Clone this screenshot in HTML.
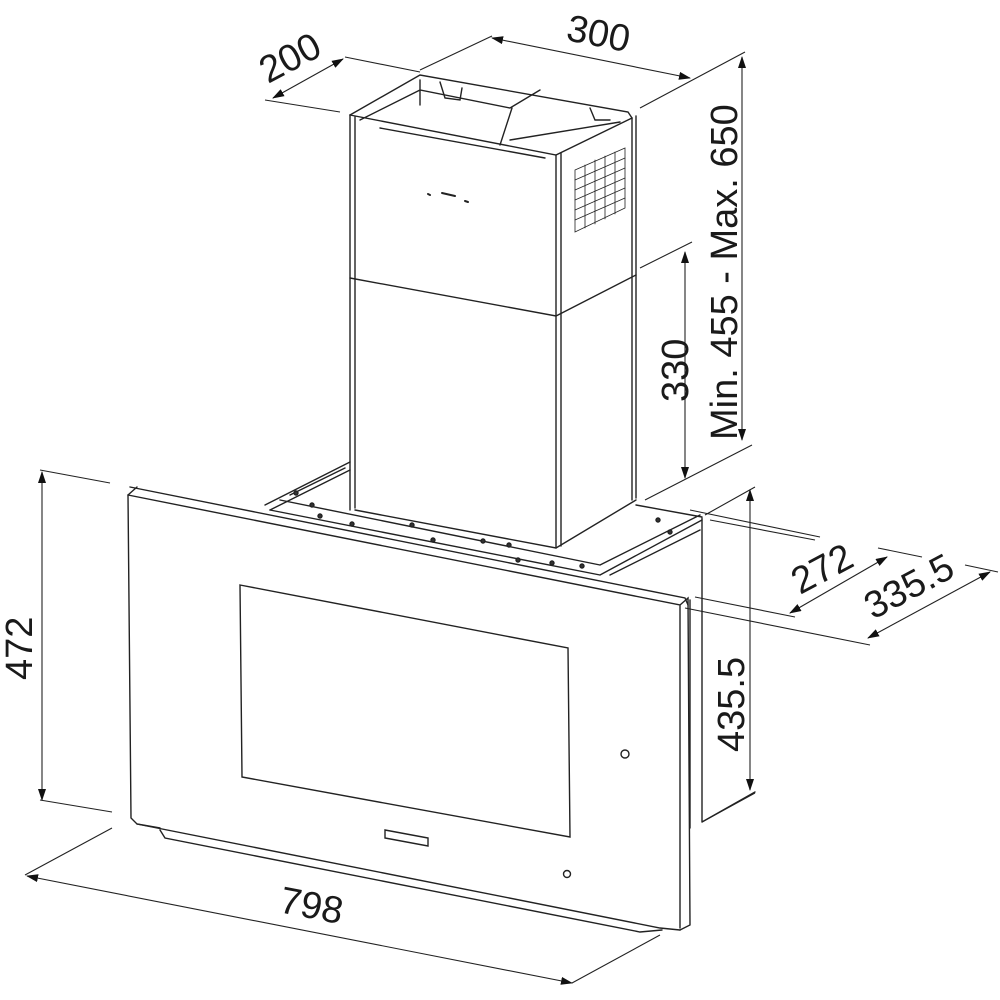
<!DOCTYPE html>
<html><head><meta charset="utf-8"><style>
html,body{margin:0;padding:0;background:#fff;}
svg{display:block}
text{font-family:"Liberation Sans",sans-serif;font-size:38px;fill:#1a1a1a}
</style></head><body>
<svg width="1000" height="1000" viewBox="0 0 1000 1000" xmlns="http://www.w3.org/2000/svg">
<defs>
<marker id="a" markerWidth="12" markerHeight="8" refX="11" refY="4" orient="auto-start-reverse" markerUnits="userSpaceOnUse"><path d="M0,0 L12,4 L0,8 Z" fill="#111"/></marker>
</defs>
<g stroke="#222" stroke-width="1.4" fill="none" stroke-linecap="round">
<path d="M350,115 L350,510 M355,117 L355,508"/>
<path d="M350,115 L556,155 L632,118"/>
<path d="M350,115 L420,75 L628,112 L632,118"/>
<path d="M556,155 L556,548 M561,153 L561,546"/>
<path d="M632,118 L632,500 M636,116 L636,498"/>
<path d="M350,278 L556,316 L636,275"/>
<path d="M355,510 L556,548 L636,500"/>
<path d="M360,120 L420,90 L510,108 L540,90 M420,80 L420,105 M380,128 L545,158 M512,108 L500,145 M510,140 L620,122"/>
<path d="M440,82 L445,98 L460,100 L462,88 M590,108 L595,120 L610,120"/>
<g stroke-width="0.8"><path d="M575,170 L625,148 L625,208 L575,232 Z"/>
<path d="M575,180 L625,158 M575,190 L625,168 M575,200 L625,178 M575,210 L625,188 M575,220 L625,198 M585,165 L585,228 M595,160 L595,224 M605,156 L605,219 M615,152 L615,214"/></g>
<path d="M428,194 L430,195 M442,193 L455,196 M465,201 L468,202" stroke-width="2"/>
<path d="M265,505 L350,462 M270,510 L350,470 M290,495 L345,468"/>
<path d="M270,510 L600,575 M280,500 L600,565 M600,565 L700,515 M600,575 L702,520 M610,575 L700,530 M636,505 L702,517"/>
<g fill="#333"><circle cx="296" cy="493" r="2"/><circle cx="320" cy="516" r="2"/><circle cx="352" cy="524" r="2"/><circle cx="412" cy="525" r="2"/><circle cx="433" cy="540" r="2"/><circle cx="483" cy="541" r="2"/><circle cx="509" cy="545" r="2"/><circle cx="518" cy="560" r="2"/><circle cx="552" cy="563" r="2"/><circle cx="582" cy="566" r="2"/><circle cx="658" cy="520" r="2"/><circle cx="670" cy="532" r="2"/><circle cx="312" cy="505" r="2"/></g>
<path d="M702,518 L702,822 M702,822 L755,792 M690,600 L690,828"/>
<path d="M130,487 L685,598 L688,605" />
<path d="M128,495 L137,487" />
<path d="M128,495 L131,818 L137,824 L160,828 M128,495 L680,605 L680,928 M680,605 L688,598 L690,925 L680,930"/>
<path d="M137,824 L660,928 L680,930 M160,830 L165,838 L640,932 L662,930"/>
<path d="M240,585 L568,648 L570,837 L242,777 Z"/>
<path d="M385,830 L428,838 L428,846 L385,838 Z"/>
<circle cx="625" cy="754" r="4"/><circle cx="567" cy="874" r="3.5"/>
</g>
<g stroke="#222" stroke-width="1.1" fill="none">
<path d="M345,57 L420,72 M265,100 L340,112"/>
<path d="M273,98 L343,59" marker-start="url(#a)" marker-end="url(#a)"/>
<path d="M420,70 L492,36 M640,108 L745,52"/>
<path d="M492,38 L690,78" marker-start="url(#a)" marker-end="url(#a)"/>
<path d="M742,57 L742,440" marker-start="url(#a)" marker-end="url(#a)"/>
<path d="M640,268 L692,242 M645,500 L752,445"/>
<path d="M685,252 L685,478" marker-start="url(#a)" marker-end="url(#a)"/>
<path d="M40,470 L110,483 M40,800 L112,812"/>
<path d="M42,472 L42,800" marker-start="url(#a)" marker-end="url(#a)"/>
<path d="M705,515 L755,487 M702,822 L755,793"/>
<path d="M750,490 L750,790" marker-start="url(#a)" marker-end="url(#a)"/>
<path d="M690,510 L820,537 M710,520 L815,540 M695,597 L795,617 M685,608 L870,645"/>
<path d="M878,548 L922,557 M965,565 L998,572"/>
<path d="M790,613 L887,557" marker-start="url(#a)" marker-end="url(#a)"/>
<path d="M868,638 L990,572" marker-start="url(#a)" marker-end="url(#a)"/>
<path d="M25,875 L112,828 M572,983 L660,935"/>
<path d="M27,876 L572,983" marker-start="url(#a)" marker-end="url(#a)"/>
</g>
<text transform="translate(268,84) rotate(-28)">200</text>
<text transform="translate(565,40) rotate(11)">300</text>
<text transform="translate(737,440) rotate(-90)">Min. 455 - Max. 650</text>
<text transform="translate(688,402) rotate(-90)">330</text>
<text transform="translate(32,680) rotate(-90)">472</text>
<text transform="translate(744,752) rotate(-90)">435.5</text>
<text transform="translate(800,595) rotate(-28)">272</text>
<text transform="translate(873,620) rotate(-28)">335.5</text>
<text transform="translate(278,912) rotate(11)">798</text>
</svg>
</body></html>
